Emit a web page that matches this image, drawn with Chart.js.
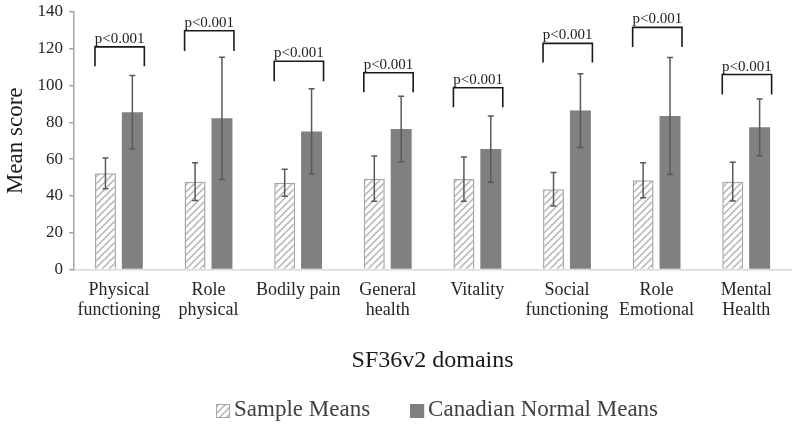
<!DOCTYPE html>
<html>
<head>
<meta charset="utf-8">
<script src="https://cdn.jsdelivr.net/npm/chart.js@4/dist/chart.umd.min.js"></script>
<style>
html,body{margin:0;padding:0;background:#fff;}
#wrap{width:797px;height:426px;position:relative;}
</style>
</head>
<body>
<div id="wrap"><canvas id="c" width="797" height="426"></canvas></div>
<script>
const categories = [['Physical','functioning'],['Role','physical'],['Bodily pain'],['General','health'],['Vitality'],['Social','functioning'],['Role','Emotional'],['Mental','Health']];
const sampleMeans = [52.3, 47.8, 47.2, 49.4, 49.2, 43.6, 48.5, 47.8];
const sampleSD = [8.4, 10.2, 7.3, 12.3, 12.0, 9.1, 9.5, 10.5];
const canadianMeans = [85.5, 82.2, 75.1, 76.4, 65.5, 86.4, 83.5, 77.3];
const canadianSD = [20.0, 33.2, 23.2, 17.8, 18.0, 20.0, 31.8, 15.4];
const bracketTop = [121, 129.8, 113.2, 107, 98.8, 122.9, 131.6, 106];
const bracketLeg = [110.5, 118.8, 102.4, 96.4, 88.2, 112.5, 121, 95.2];
const pLabels = ['p<0.001','p<0.001','p<0.001','p<0.001','p<0.001','p<0.001','p<0.001','p<0.001'];
const yTicks = [0, 20, 40, 60, 80, 100, 120, 140];
const seriesNames = ['Sample Means', 'Canadian Normal Means'];

const FONT = "'Liberation Serif', 'Times New Roman', serif";

function makeHatch(){
  const pc = document.createElement('canvas');
  pc.width = 7; pc.height = 7;
  const g = pc.getContext('2d');
  g.fillStyle = '#ffffff'; g.fillRect(0,0,7,7);
  g.strokeStyle = '#b3b3b3'; g.lineWidth = 1.5;
  g.beginPath();
  g.moveTo(-1, 8); g.lineTo(8, -1);
  g.moveTo(-1, 1); g.lineTo(1, -1);
  g.moveTo(6, 8); g.lineTo(8, 6);
  g.stroke();
  return document.getElementById('c').getContext('2d').createPattern(pc, 'repeat');
}
const hatch = makeHatch();

const overlay = {
  id: 'overlay',
  afterDatasetsDraw(chart){
    const ctx = chart.ctx;
    const y = chart.scales.y;
    const sets = [[sampleMeans, sampleSD],[canadianMeans, canadianSD]];
    ctx.save();
    ctx.strokeStyle = '#595959';
    ctx.lineWidth = 1.5;
    sets.forEach((s, di) => {
      const meta = chart.getDatasetMeta(di);
      meta.data.forEach((bar, j) => {
        const x = bar.x;
        const yt = y.getPixelForValue(s[0][j] + s[1][j]);
        const yb = y.getPixelForValue(s[0][j] - s[1][j]);
        ctx.beginPath();
        ctx.moveTo(x, yt); ctx.lineTo(x, yb);
        ctx.moveTo(x-3, yt); ctx.lineTo(x+3, yt);
        ctx.moveTo(x-3, yb); ctx.lineTo(x+3, yb);
        ctx.stroke();
      });
    });
    // brackets
    const m0 = chart.getDatasetMeta(0), m1 = chart.getDatasetMeta(1);
    ctx.strokeStyle = '#1a1a1a';
    ctx.lineWidth = 1.6;
    ctx.fillStyle = '#222';
    ctx.font = '15px ' + FONT;
    ctx.textAlign = 'center';
    ctx.textBaseline = 'alphabetic';
    categories.forEach((c, j) => {
      const b0 = m0.data[j], b1 = m1.data[j];
      const xl = b0.x - b0.width/2;
      const xr = b1.x + b1.width/2 + 1.5;
      const yt = y.getPixelForValue(bracketTop[j]);
      const yl = y.getPixelForValue(bracketLeg[j]);
      ctx.beginPath();
      ctx.moveTo(xl, yl); ctx.lineTo(xl, yt); ctx.lineTo(xr, yt); ctx.lineTo(xr, yl);
      ctx.stroke();
      ctx.fillText(pLabels[j], (xl+xr)/2, yt - 4);
    });
    ctx.restore();
  },
  afterDraw(chart){
    // legend
    const ctx = chart.ctx;
    const ca = chart.chartArea;
    ctx.save();
    ctx.font = '23px ' + FONT;
    ctx.textBaseline = 'middle';
    ctx.textAlign = 'left';
    const box = 14, gapText = 4, gapItem = 40;
    const w0 = ctx.measureText(seriesNames[0]).width;
    const w1 = ctx.measureText(seriesNames[1]).width;
    const total = box + gapText + w0 + gapItem + box + gapText + w1;
    let x = (ca.left + ca.right)/2 + 4.5 - total/2;
    const yc = 410;
    const fills = [hatch, '#808080'];
    const strokes = ['#a6a6a6', '#808080'];
    [w0, w1].forEach((w, i) => {
      ctx.fillStyle = fills[i];
      ctx.fillRect(x, yc - box/2 + 1, box, box);
      ctx.strokeStyle = strokes[i];
      ctx.lineWidth = 1;
      ctx.strokeRect(x + 0.5, yc - box/2 + 1.5, box - 1, box - 1);
      ctx.fillStyle = '#404040';
      ctx.fillText(seriesNames[i], x + box + gapText, yc);
      x += box + gapText + w + gapItem;
    });
    ctx.restore();
  }
};

new Chart(document.getElementById('c'), {
  type: 'bar',
  data: {
    labels: categories,
    datasets: [
      {label: seriesNames[0], data: sampleMeans, backgroundColor: hatch, borderColor: '#a6a6a6', borderWidth: 1.5,
       categoryPercentage: 0.6, barPercentage: 0.78},
      {label: seriesNames[1], data: canadianMeans, backgroundColor: '#808080', borderColor: '#808080', borderWidth: 0,
       categoryPercentage: 0.6, barPercentage: 0.78}
    ]
  },
  options: {
    responsive: false,
    animation: false,
    devicePixelRatio: 1,
    layout: {padding: {top: 0, right: 6, left: 0, bottom: 41}},
    plugins: {
      tooltip: {enabled: false},
      legend: {display: false}
    },
    scales: {
      x: {
        grid: {display: false, drawTicks: false},
        border: {display: true, color: '#d9d9d9', width: 1.5},
        ticks: {font: {family: FONT, size: 18, lineHeight: 1.1}, color: '#262626', autoSkip: false, maxRotation: 0, padding: 11},
        title: {display: true, text: 'SF36v2 domains', font: {family: FONT, size: 24}, color: '#1a1a1a', padding: {top: 15, bottom: 10}}
      },
      y: {
        min: 0, max: 140,
        afterBuildTicks(scale){ scale.ticks = yTicks.map(v => ({value: v})); },
        grid: {display: true, drawOnChartArea: false, drawTicks: true, tickLength: 5, color: '#a6a6a6', lineWidth: 1.5},
        border: {display: true, color: '#a6a6a6', width: 1.5},
        ticks: {font: {family: FONT, size: 17, lineHeight: 0.7}, color: '#262626', padding: 6},
        title: {display: true, text: 'Mean score', font: {family: FONT, size: 23}, color: '#1a1a1a', padding: {top: 2, bottom: 2}}
      }
    }
  },
  plugins: [overlay]
});
</script>
</body>
</html>
